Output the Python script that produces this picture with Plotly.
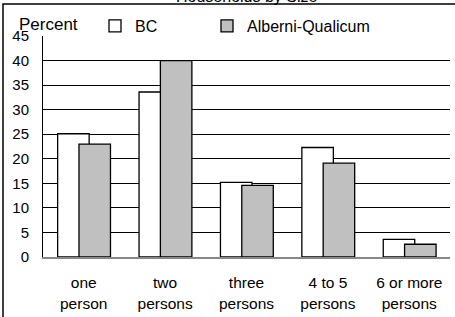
import plotly.graph_objects as go

categories = ["one<br>person", "two<br>persons", "three<br>persons", "4 to 5<br>persons", "6 or more<br>persons"]
bc_values = [25.1, 33.6, 15.2, 22.3, 3.6]
aq_values = [23.0, 40.0, 14.6, 19.1, 2.6]
y_ticks = [0, 5, 10, 15, 20, 25, 30, 35, 40, 45]

W, H = 455, 317
L, R, T, B = 43, 5, 36, 60
pw, ph = W - L - R, H - T - B

def px_x(p):
    return (p - L) / pw

def px_y(p):
    return (H - B - p) / ph

fig = go.Figure()
fig.add_trace(go.Bar(
    x=categories, y=bc_values, name="BC",
    marker=dict(color="white", line=dict(color="black", width=1.3)),
    width=0.387, offset=-0.32, legendwidth=67,
))
fig.add_trace(go.Bar(
    x=categories, y=aq_values, name="Alberni-Qualicum",
    marker=dict(color="#C0C0C0", line=dict(color="black", width=1.3)),
    width=0.387, offset=-0.058,
))

fig.update_layout(
    width=W, height=H,
    margin=dict(l=L, r=R, t=T, b=B, autoexpand=False),
    paper_bgcolor="white", plot_bgcolor="white",
    barmode="overlay",
    font=dict(family="Liberation Sans, Arial, sans-serif", color="black", size=15),
    legend=dict(orientation="h", x=px_x(93), xanchor="left", y=px_y(26), yanchor="middle",
                bgcolor="white", borderwidth=2, bordercolor="white", font=dict(size=16)),
    xaxis=dict(range=[-0.5, 4.5], showgrid=False, showline=True, linecolor="#888888",
               linewidth=1.5, ticks="", ticklabelstandoff=11, tickfont=dict(size=15.5)),
    yaxis=dict(range=[0, 45], tickvals=y_ticks, showgrid=True, gridcolor="black",
               gridwidth=1, zeroline=False, showline=True, linecolor="black", linewidth=1,
               ticks="", ticklabelstandoff=10, tickfont=dict(size=15)),
    shapes=[dict(type="rect", xref="paper", yref="paper",
                 x0=px_x(3), x1=px_x(470), y0=px_y(4), y1=px_y(340),
                 line=dict(color="black", width=1.5), fillcolor="rgba(0,0,0,0)")],
    annotations=[
        dict(text="Households by Size", xref="paper", yref="paper", x=0.5, y=px_y(-3),
             xanchor="center", yanchor="middle", showarrow=False, font=dict(size=16)),
        dict(text="Percent", xref="paper", yref="paper", x=px_x(17), y=px_y(25),
             xanchor="left", yanchor="middle", showarrow=False, font=dict(size=17)),
    ],
)

fig.write_html("out.html", config={"displayModeBar": False},
               post_script="document.body.style.margin='0';")
